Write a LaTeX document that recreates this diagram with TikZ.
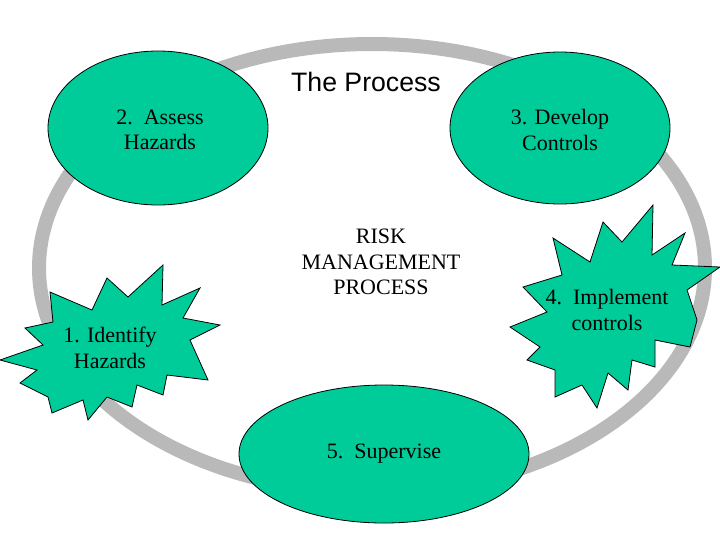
\documentclass[tikz,border=0pt]{standalone}
\usepackage{fontspec}
\setmainfont{Liberation Serif}
\setsansfont{Liberation Sans}
\begin{document}
\begin{tikzpicture}[x=0.75pt,y=-0.75pt]
\definecolor{grn}{RGB}{0,204,153}
\tikzset{blob/.style={draw=black,fill=grn,line width=0.6pt},
 lbl/.style={font=\fontsize{16.5}{19}\selectfont,align=center}}
\useasboundingbox (0,0) rectangle (720,540);
\draw[gray!55,line width=10.5pt] (372,268) ellipse [x radius=333,y radius=224];
\node[font=\sffamily\fontsize{20}{24}\selectfont] (title) at (366,82) {The Process};
\draw[blob] (158,128) ellipse [x radius=110,y radius=77];
\node[lbl] (n2) at (160,130) {2.\ \ Assess\\Hazards};
\draw[blob] (560,128) ellipse [x radius=110,y radius=76];
\node[lbl] (n3) at (560,130) {3. Develop\\Controls};
\draw[blob] (384,454) ellipse [x radius=145,y radius=69];
\node[lbl] (n5) at (384,454) {5.\ \ Supervise};
\node[lbl] (n0) at (381,262) {RISK\\MANAGEMENT\\PROCESS};
\draw[blob] (50,292)--(92,310)--(107,278)--(128,297)--(163,265)--(162,305)--(200,288)--(183,318)--(220,325)--(190,340)--(208,380)--(167,375)--(163,395)--(137,385)--(132,407)--(107,397)--(88,420)--(83,400)--(52,413)--(48,397)--(20,383)--(37,370)--(0,360)--(43,345)--(25,328)--(53,322)--cycle;
\node[lbl] (n1) at (110,348) {1. Identify\\Hazards};
\draw[blob] (553,238)--(590,262)--(603,222)--(622,242)--(653,205)--(652,255)--(685,233)--(672,265)--(720,267)--(687,290)--(697,320)--(690,347)--(655,340)--(655,367)--(632,360)--(628,390)--(608,373)--(597,408)--(582,385)--(555,397)--(555,370)--(527,360)--(540,347)--(510,327)--(547,312)--(523,287)--(562,275)--cycle;
\node[lbl] (n4) at (607,310) {4.\ \ Implement\\controls};
\end{tikzpicture}
\end{document}
